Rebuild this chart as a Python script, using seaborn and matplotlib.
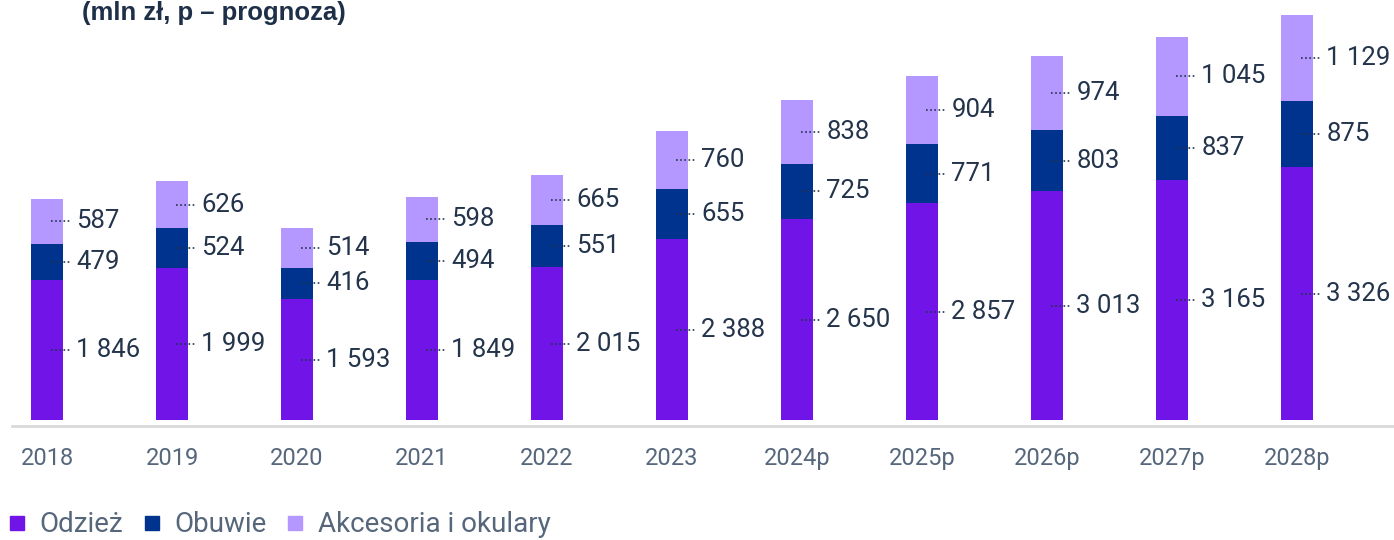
import matplotlib
matplotlib.use("Agg")
import matplotlib.pyplot as plt
from matplotlib.lines import Line2D
import seaborn as sns
import pandas as pd
import numpy as np

years = ["2018", "2019", "2020", "2021", "2022", "2023", "2024p", "2025p", "2026p", "2027p", "2028p"]
odziez = [1846, 1999, 1593, 1849, 2015, 2388, 2650, 2857, 3013, 3165, 3326]
obuwie = [479, 524, 416, 494, 551, 655, 725, 771, 803, 837, 875]
akcesoria = [587, 626, 514, 598, 665, 760, 838, 904, 974, 1045, 1129]
series_names = ["Odzież", "Obuwie", "Akcesoria i okulary"]
title = "(mln zł, p – prognoza)"

colors = ["#7014E8", "#00338D", "#B497FF"]
text_col = "#23344B"
tick_col = "#56677C"

sns.set_theme(style="white")
plt.rcParams["font.family"] = ["Roboto", "DejaVu Sans"]

df = pd.DataFrame({"year": years, "Odzież": odziez, "Obuwie": obuwie, "Akcesoria": akcesoria})
df["c1"] = df["Odzież"]
df["c2"] = df["c1"] + df["Obuwie"]
df["c3"] = df["c2"] + df["Akcesoria"]

fig = plt.figure(figsize=(13.94, 5.4), dpi=100)
ax = fig.add_axes([12 / 1394, (540 - 426) / 540, 1 - 12 / 1394, (426 - 15) / 540])

for col, c in zip(["c3", "c2", "c1"], [colors[2], colors[1], colors[0]]):
    sns.barplot(data=df, x="year", y=col, color=c, width=0.25, ax=ax,
                saturation=1, linewidth=0, errorbar=None)

ax.set_xlim(-0.28, 10.776)
ax.set_ylim(-75, 5330)
ax.set_xlabel("")
ax.set_ylabel("")
ax.set_yticks([])
for s in ["top", "left", "right"]:
    ax.spines[s].set_visible(False)
ax.spines["bottom"].set_color("#D9D9D9")
ax.spines["bottom"].set_linewidth(2)
ax.tick_params(axis="x", length=0, pad=15, labelsize=17, labelcolor=tick_col)

def fmt(v):
    return f"{v:,}".replace(",", " ")

for i in range(len(years)):
    bottoms = [0, df["c1"][i], df["c2"][i]]
    vals = [odziez[i], obuwie[i], akcesoria[i]]
    for b, v in zip(bottoms, vals):
        ym = b + v / 2
        ax.plot([i + 0.035, i + 0.19], [ym, ym], ls=(0, (1, 1.5)), color=text_col, lw=1.2)
        ax.text(i + 0.235, ym, fmt(v), va="center", ha="left", fontsize=18.5, color=text_col)

handles = [Line2D([0], [0], marker="s", color="none", markerfacecolor=c, markeredgecolor=c,
                  markersize=9.5) for c in colors]
fig.legend(handles, series_names, loc="center left", bbox_to_anchor=(0.006, (540 - 525) / 540),
           ncol=3, frameon=False, fontsize=20, handlelength=0.6, handletextpad=0.5,
           columnspacing=0.75, labelcolor=tick_col, borderaxespad=0, borderpad=0)

fig.text(82 / 1394, 1 - 1 / 540, title, fontsize=18.5, fontweight="bold", color="#1E3048",
         va="top", ha="left", family=["Liberation Sans", "DejaVu Sans"])

fig.savefig("out.png", dpi=100)
